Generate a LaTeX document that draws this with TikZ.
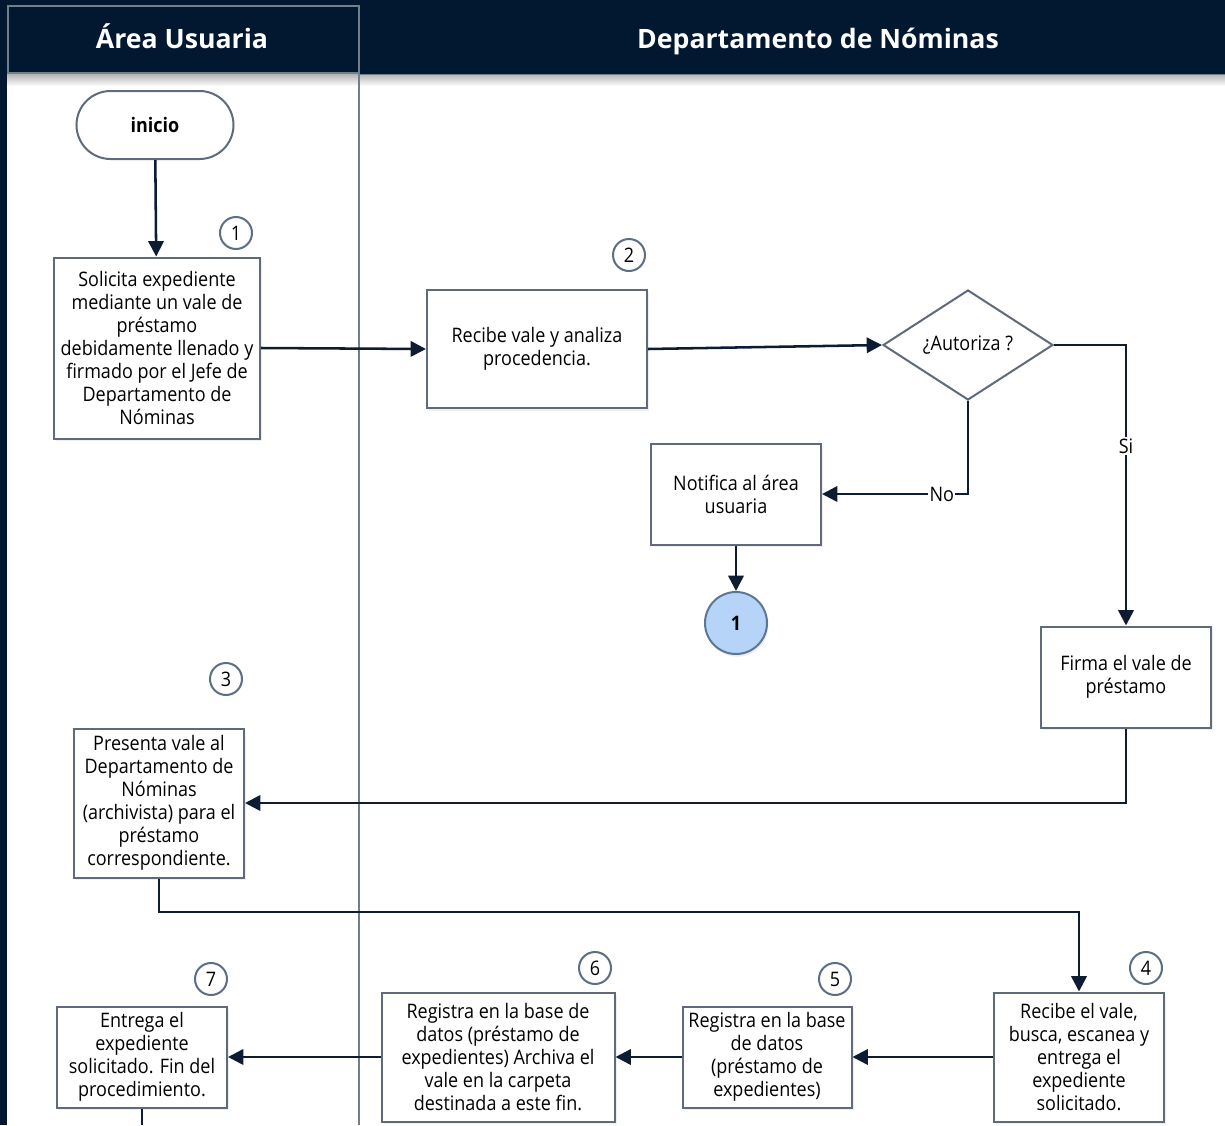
\documentclass[tikz,border=0pt]{standalone}
\usepackage{fontspec}
\setmainfont{Open Sans}[FakeStretch=0.9]
\newfontfamily\headfont{Open Sans}
\usetikzlibrary{arrows.meta, shapes.geometric, shadows}
\definecolor{navy}{RGB}{1,24,48}
\definecolor{lanegray}{RGB}{112,128,136}
\definecolor{boxgray}{RGB}{95,107,122}
\definecolor{flowline}{RGB}{13,27,51}
\definecolor{connblue}{RGB}{181,212,248}
\definecolor{connedge}{RGB}{92,118,150}
\definecolor{numgray}{RGB}{92,110,132}

\tikzset{
  process/.style={draw=boxgray, line width=1.5pt, fill=white, align=center,
    font=\fontsize{15}{17.25}\selectfont, inner sep=2pt,
    drop shadow={shadow xshift=1.5pt, shadow yshift=-2pt, opacity=0.12}},
  stepnum/.style={circle, draw=numgray, line width=1.5pt, fill=white,
    minimum size=24pt, inner sep=0pt, font=\fontsize{15}{15}\selectfont},
  flow/.style={draw=flowline, line width=1.9pt, ->},
  tag/.style={fill=white, inner sep=1pt, font=\fontsize{15}{15}\selectfont},
  lanehead/.style={text=white, anchor=base, font=\headfont\bfseries\fontsize{20}{20}\selectfont},
}

\begin{document}
\begin{tikzpicture}[x=0.75pt, y=-0.75pt, >={Triangle[length=11.5pt,width=11.5pt]}]
  \useasboundingbox (0,0) rectangle (1225,1125);

  % Swimlanes
  \fill[white] (0,0) rectangle (1225,1125);
  \shade[top color=black!30, bottom color=white] (0,74) rectangle (1225,86);
  \fill[navy] (0,0) rectangle (1225,74);
  \fill[navy] (0,0) rectangle (7,1125);
  \draw[lanegray, line width=1.2pt] (8,6) rectangle (359,73);
  \draw[lanegray, line width=1.2pt] (359,73) -- (359,1125);
  \draw[lanegray, line width=0.6pt] (359,74) -- (1225,74);
  \node[lanehead] (laneA) at (182,48) {Área Usuaria};
  \node[lanehead] (laneB) at (818,48) {Departamento de Nóminas};

  % Start
  \node[draw=boxgray, line width=1.5pt, fill=white, rounded corners=25.5pt,
    minimum width=117.75pt, minimum height=51pt,
    font=\bfseries\fontsize{15}{15}\selectfont] (inicio) at (155,125) {inicio};

  % Process steps
  \node[process, minimum width=154.5pt, minimum height=135.75pt] (solicita) at (157,348)
    {Solicita expediente\\mediante un vale de\\préstamo\\debidamente llenado y\\firmado por el Jefe de\\Departamento de\\Nóminas};
  \node[process, minimum width=165pt, minimum height=88.5pt] (recibe) at (537,349)
    {Recibe vale y analiza\\procedencia.};
  \node[diamond, draw=boxgray, line width=1.5pt, fill=white, aspect=1.55,
    minimum width=127.5pt, minimum height=82.5pt, inner sep=0pt,
    font=\fontsize{15}{15}\selectfont] (autoriza) at (968,345) {¿Autoriza ?};
  \node[process, minimum width=127.5pt, minimum height=75.75pt] (notifica) at (736,494)
    {Notifica al área\\usuaria};
  \node[circle, draw=connedge, line width=1.5pt, fill=connblue, minimum size=46.5pt,
    font=\bfseries\fontsize{15}{15}\selectfont,
    drop shadow={shadow xshift=1pt, shadow yshift=-2pt, opacity=0.15}] (conn) at (736,623) {1};
  \node[process, minimum width=127.5pt, minimum height=75.75pt] (firma) at (1126,677)
    {Firma el vale de\\préstamo};
  \node[process, minimum width=127.5pt, minimum height=111.75pt] (presenta) at (159,803)
    {Presenta vale al\\Departamento de\\Nóminas\\(archivista) para el\\préstamo\\correspondiente.};
  \node[process, minimum width=127.5pt, minimum height=96.75pt] (busca) at (1079,1057)
    {Recibe el vale,\\busca, escanea y\\entrega el\\expediente\\solicitado.};
  \node[process, minimum width=126.75pt, minimum height=75.75pt] (registra) at (767,1057)
    {Registra en la base\\de datos\\(préstamo de\\expedientes)};
  \node[process, minimum width=174.75pt, minimum height=96.75pt] (archiva) at (498,1057)
    {Registra en la base de\\datos (préstamo de\\expedientes) Archiva el\\vale en la carpeta\\destinada a este fin.};
  \node[process, minimum width=127.5pt, minimum height=75.75pt] (entrega) at (142,1057)
    {Entrega el\\expediente\\solicitado. Fin del\\procedimiento.};

  % Step numbers
  \node[stepnum] (num1) at (236,233) {1};
  \node[stepnum] (num2) at (629,255) {2};
  \node[stepnum] (num3) at (226,679) {3};
  \node[stepnum] (num4) at (1146,968) {4};
  \node[stepnum] (num5) at (835,979) {5};
  \node[stepnum] (num6) at (595,968) {6};
  \node[stepnum] (num7) at (211,979) {7};

  \coordinate (turn) at (600,912);
  \coordinate (fin) at (142,1125);

  % Connectors
  \draw[flow] (inicio) -- (solicita);
  \draw[flow] (solicita.east) -- (recibe.west);
  \draw[flow] (recibe.east) -- (autoriza.west);
  \draw[flow] (autoriza.east) -| node[tag, pos=0.68] {Si} (firma.north);
  \draw[flow] (autoriza.south) |- node[tag, pos=0.59] {No} (notifica.east);
  \draw[flow] (notifica) -- (conn);
  \draw[flow] (firma.south) |- (presenta.east);
  \draw[flow] (presenta.south) |- (turn) -| (busca.north);
  \draw[flow] (busca) -- (registra);
  \draw[flow] (registra) -- (archiva);
  \draw[flow] (archiva) -- (entrega);
  \draw[draw=flowline, line width=1.9pt] (entrega.south) -- (fin);
\end{tikzpicture}
\end{document}
